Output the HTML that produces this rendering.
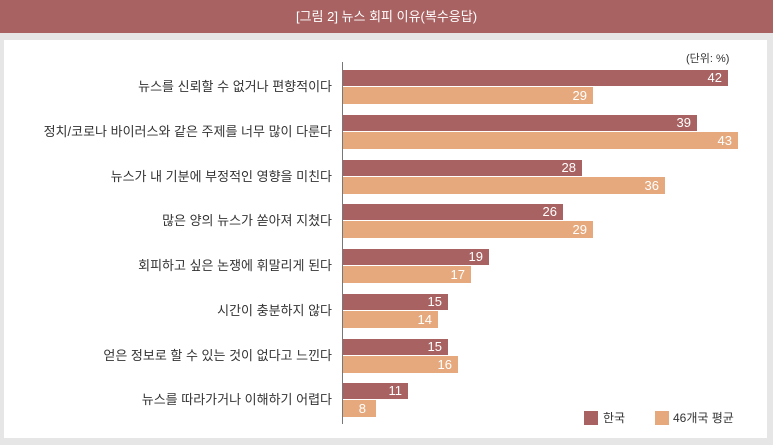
<!DOCTYPE html>
<html><head><meta charset="utf-8"><style>
body{margin:0;width:773px;height:445px;background:#e6e6e6;position:relative;overflow:hidden;font-family:"Liberation Sans","Noto Sans CJK KR",sans-serif}
.hd{position:absolute;left:0;top:0;width:773px;height:33px;background:#a86262;color:#fff;font-size:13px;text-align:center;line-height:33px}
.pn{position:absolute;left:4px;top:40px;width:763px;height:398px;background:#fff}
.ax{position:absolute;left:342px;top:62px;width:1px;height:362px;background:#777}
.b{position:absolute;left:343px;color:#fff;font-size:13px;text-align:right;box-sizing:border-box;padding-right:6px}
.d{background:#a86262;height:16px;line-height:16px}
.l{background:#e6a97e;height:17px;line-height:17px}
.c{position:absolute;right:441px;font-size:13px;color:#333;white-space:nowrap;line-height:16px}
.lg{position:absolute;width:14px;height:14px;top:411px}
.lt{position:absolute;top:409px;font-size:12px;color:#333}
</style></head><body>
<div class="hd">[그림 2] 뉴스 회피 이유(복수응답)</div>
<div class="pn"></div>
<div style="position:absolute;left:686px;top:50px;font-size:11px;color:#333">(단위: %)</div>
<div class="ax"></div>

<div class="c" style="top:79px">뉴스를 신뢰할 수 없거나 편향적이다</div>
<div class="b d" style="top:70px;width:385px">42</div>
<div class="b l" style="top:87px;width:250px">29</div>

<div class="c" style="top:124px">정치/코로나 바이러스와 같은 주제를 너무 많이 다룬다</div>
<div class="b d" style="top:115px;width:354px">39</div>
<div class="b l" style="top:132px;width:395px">43</div>

<div class="c" style="top:169px">뉴스가 내 기분에 부정적인 영향을 미친다</div>
<div class="b d" style="top:160px;width:239px">28</div>
<div class="b l" style="top:177px;width:322px">36</div>

<div class="c" style="top:213px">많은 양의 뉴스가 쏟아져 지쳤다</div>
<div class="b d" style="top:204px;width:220px">26</div>
<div class="b l" style="top:221px;width:250px">29</div>

<div class="c" style="top:258px">회피하고 싶은 논쟁에 휘말리게 된다</div>
<div class="b d" style="top:249px;width:146px">19</div>
<div class="b l" style="top:266px;width:128px">17</div>

<div class="c" style="top:303px">시간이 충분하지 않다</div>
<div class="b d" style="top:294px;width:105px">15</div>
<div class="b l" style="top:311px;width:95px">14</div>

<div class="c" style="top:348px">얻은 정보로 할 수 있는 것이 없다고 느낀다</div>
<div class="b d" style="top:339px;width:105px">15</div>
<div class="b l" style="top:356px;width:115px">16</div>

<div class="c" style="top:392px">뉴스를 따라가거나 이해하기 어렵다</div>
<div class="b d" style="top:383px;width:65px">11</div>
<div class="b l" style="top:400px;width:33px;padding-right:10px">8</div>

<div class="lg" style="left:584px;background:#a86262"></div>
<div class="lt" style="left:603px">한국</div>
<div class="lg" style="left:655px;background:#e6a97e"></div>
<div class="lt" style="left:673px">46개국 평균</div>
</body></html>
